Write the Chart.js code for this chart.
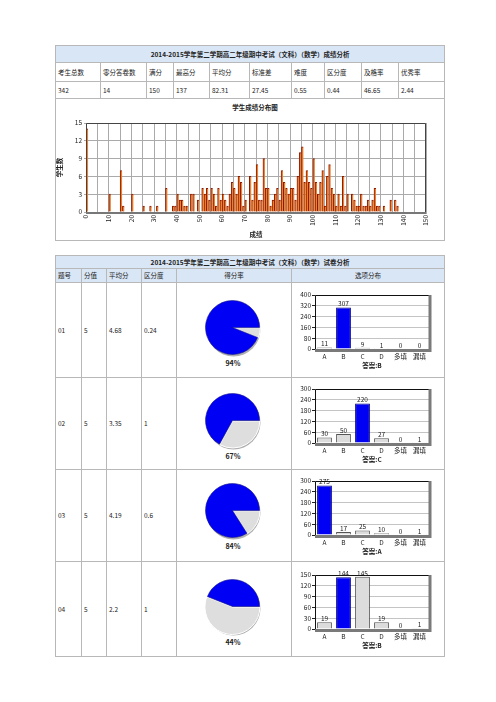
<!DOCTYPE html>
<html><head><meta charset="utf-8">
<script src="https://cdn.jsdelivr.net/npm/chart.js@4.4.1/dist/chart.umd.min.js"></script>
<style>
body{margin:0;background:#fff;width:496px;height:702px;position:relative;overflow:hidden;font-family:"Noto Sans CJK SC","Noto Sans",sans-serif;color:#222}
table{position:absolute;border-collapse:collapse;table-layout:fixed;font-size:6.5px;line-height:1}
td{border:1px solid #b8b8b8;padding:0 2px;overflow:hidden;white-space:nowrap;vertical-align:middle;color:#222}
.blue td{background:#d9e6f6}
.ttl{text-align:center;font-weight:bold}
.ctr{text-align:center}
canvas{position:absolute}
.lbl{position:absolute;font-size:6.5px;font-weight:bold;text-align:center;line-height:1}
</style></head>
<body>
<script>
// ---------- data ----------
const title1 = '2014-2015学年第二学期高二年级期中考试（文科）（数学）成绩分析';
const title2 = '2014-2015学年第二学期高二年级期中考试（文科）（数学）试卷分析';
const statHeaders = ['考生总数','零分答卷数','满分','最高分','平均分','标准差','难度','区分度','及格率','优秀率'];
const statValues = ['342','14','150','137','82.31','27.45','0.55','0.44','46.65','2.44'];
const histTitle = '学生成绩分布图';
const histScores = [0,10,15,16,20,25,28,31,35,38,39,40,41,42,43,44,46,47,49,
  51,52,53,54,55,56,57,58,59,60,61,62,63,64,65,66,67,68,69,70,72,73,74,75,76,77,78,79,
  80,81,82,83,84,85,86,87,88,89,90,91,92,93,94,95,96,97,98,99,
  100,101,102,103,104,105,106,107,108,109,110,111,112,113,114,115,117,118,119,
  120,121,122,123,124,125,126,127,128,129,131,134,136,137];
const histCounts = [14,3,7,1,3,1,1,1,4,1,1,3,2,2,1,1,3,3,2,
  4,3,4,2,4,3,1,4,2,3,2,1,3,5,4,3,6,5,1,2,6,2,5,8,2,2,9,4,
  4,1,2,3,4,2,7,5,4,3,4,4,2,6,10,11,5,7,5,4,
  9,5,3,5,7,1,6,8,4,3,1,3,1,6,1,3,3,2,1,
  1,3,1,1,2,1,2,4,1,1,1,2,2,1];
const histYTitle = '学生数';
const histXTitle = '成绩';

const qHeaders = ['题号','分值','平均分','区分度','得分率','选项分布'];
const qIds = ['01','02','03','04'];
const qPoints = ['5','5','5','5'];
const qAvg = ['4.68','3.35','4.19','2.2'];
const qDisc = ['0.24','1','0.6','1'];
const qRate = [94,67,84,44];
const optLabels = ['A','B','C','D','多填','漏填'];
const q1Counts = [11,307,9,1,0,0];
const q2Counts = [30,50,220,27,0,1];
const q3Counts = [275,17,25,10,0,1];
const q4Counts = [19,144,145,19,0,1];
const qAnswers = ['B','C','A','B'];
const qAxisMax = [400,300,300,150];

// ---------- layout ----------
const T1 = {left:55, top:45, widths:[45,46,27,36,40,42,33,37,37,46], rows:[17,19,17,142]};
const T2 = {left:55, top:255, widths:[26,25,35,35,115,153], rows:[13,14,95,92,92,95]};
const pieCY = [328,421,511,607];
const pieCX = 233;
const barPlotTop = [295,389,481,575];
const barPlotH = 54;

function mkTable(cfg){
  const t = document.createElement('table');
  t.style.left = cfg.left+'px'; t.style.top = cfg.top+'px';
  t.style.width = cfg.widths.reduce((a,b)=>a+b,0)+'px';
  const cg = document.createElement('colgroup');
  cfg.widths.forEach(w=>{const c=document.createElement('col');c.style.width=w+'px';cg.appendChild(c);});
  t.appendChild(cg);
  document.body.appendChild(t);
  return t;
}
function row(t,h,cls){const r=t.insertRow();r.style.height=h+'px';if(cls)r.className=cls;return r;}
function cell(r,txt,span,cls){const c=r.insertCell();c.textContent=txt;if(span)c.colSpan=span;if(cls)c.className=cls;return c;}

// table 1
const t1 = mkTable(T1);
cell(row(t1,T1.rows[0],'blue'), title1, 10, 'ttl');
let r = row(t1,T1.rows[1]); statHeaders.forEach(h=>cell(r,h));
r = row(t1,T1.rows[2]); statValues.forEach(v=>cell(r,v));
cell(row(t1,T1.rows[3]),'',10);

// table 2
const t2 = mkTable(T2);
cell(row(t2,T2.rows[0],'blue'), title2, 6, 'ttl');
r = row(t2,T2.rows[1],'blue');
qHeaders.forEach((h,i)=>cell(r,h,0,i>=4?'ctr':''));
qIds.forEach((id,i)=>{
  const rr = row(t2,T2.rows[2+i]);
  cell(rr,id); cell(rr,qPoints[i]); cell(rr,qAvg[i]); cell(rr,qDisc[i]); cell(rr,''); cell(rr,'');
});

Chart.defaults.font.family = '"Noto Sans CJK SC","Noto Sans",sans-serif';
Chart.defaults.color = '#222';

// histogram title
const ht = document.createElement('div');
ht.className='lbl'; ht.textContent = histTitle;
ht.style.left='205px'; ht.style.width='100px'; ht.style.top='104px';
document.body.appendChild(ht);

function addCanvas(l,t,w,h){
  const c=document.createElement('canvas');c.width=w;c.height=h;
  c.style.left=l+'px';c.style.top=t+'px';c.style.width=w+'px';c.style.height=h+'px';
  document.body.appendChild(c);return c;
}

const frameHist = {id:'frameHist', afterDraw(ch){
  const a=ch.chartArea, x=ch.ctx; x.save();
  x.strokeStyle='#444'; x.lineWidth=1;
  x.beginPath(); x.moveTo(a.left+0.5,a.bottom); x.lineTo(a.left+0.5,a.top+0.5); x.lineTo(a.right-0.5,a.top+0.5); x.lineTo(a.right-0.5,a.bottom); x.stroke();
  x.strokeStyle='#777'; x.lineWidth=2;
  x.beginPath(); x.moveTo(a.left,a.bottom+1); x.lineTo(a.right,a.bottom+1); x.stroke();
  x.restore();
}};

// histogram
new Chart(addCanvas(56,99,388,139),{
  type:'bar',
  data:{datasets:[{
    data: histScores.map((s,i)=>({x:s+0.5,y:histCounts[i]})),
    backgroundColor:'#ee7f2d', borderColor:'#8a1a00',
    borderWidth:{left:1,top:1,right:0,bottom:0}, borderSkipped:false,
    barThickness:2
  }]},
  options:{responsive:false,animation:false,
    layout:{padding:{top:24,right:18,left:0,bottom:0}},
    plugins:{legend:{display:false},tooltip:{enabled:false}},
    scales:{
      x:{type:'linear',min:0,max:150,offset:false,
        grid:{color:'#aaa',offset:false,drawTicks:true,tickLength:2},
        border:{display:false},
        ticks:{stepSize:5,autoSkip:false,minRotation:90,maxRotation:90,font:{size:6.5},padding:1,
          callback:v=>v%10===0?String(v):''},
        title:{display:true,text:histXTitle,font:{size:6.5,weight:'bold'},padding:0},
        afterFit(s){s.height=26;}},
      y:{min:0,max:15,
        grid:{color:'#aaa',tickLength:2},
        border:{display:false},
        ticks:{stepSize:3,font:{size:6.5},padding:2},
        title:{display:true,text:histYTitle,font:{size:6.5,weight:'bold'},padding:0},
        afterFit(s){s.width=30;}}
    }},
  plugins:[frameHist]
});

// pies
const pieShadow = {id:'pieShadow', beforeDatasetsDraw(ch){
  const el = ch.getDatasetMeta(0).data[0]; if(!el) return;
  const x=ch.ctx; x.save(); x.fillStyle='#b0b0b0';
  x.beginPath(); x.arc(el.x+1,el.y+2,el.outerRadius,0,Math.PI*2); x.fill(); x.restore();
}};
qRate.forEach((rate,i)=>{
  const sz=59;
  new Chart(addCanvas(pieCX-Math.round(sz/2),pieCY[i]-Math.round(sz/2),sz,sz),{
    type:'pie',
    data:{labels:['失分','得分'],datasets:[{data:[100-rate,rate],
      backgroundColor:['#dedede','#0000f5'],borderColor:['#fff','#1a1a8a'],borderWidth:[1,0.6],offset:[2,0]}]},
    options:{responsive:false,animation:false,rotation:90,
      layout:{padding:1},
      plugins:{legend:{display:false},tooltip:{enabled:false}}},
    plugins:[pieShadow]
  });
  const l=document.createElement('div'); l.className='lbl';
  l.textContent=rate+'%'; l.style.left=(pieCX-20)+'px'; l.style.width='40px';
  l.style.top=(pieCY[i]+32)+'px'; l.style.fontSize='7px';
  document.body.appendChild(l);
});

// option bar charts
const frameBar = {id:'frameBar', afterDatasetsDraw(ch){
  const a=ch.chartArea, x=ch.ctx; x.save();
  x.strokeStyle='#111'; x.lineWidth=1;
  x.beginPath(); x.moveTo(a.left+0.5,a.bottom); x.lineTo(a.left+0.5,a.top+0.5); x.lineTo(a.right,a.top+0.5); x.stroke();
  x.strokeStyle='#7a7a7a'; x.lineWidth=3;
  x.beginPath(); x.moveTo(a.right+1,a.top); x.lineTo(a.right+1,a.bottom+1.5); x.lineTo(a.left,a.bottom+1.5); x.stroke();
  // value labels
  x.fillStyle='#222'; x.font='6.5px "Noto Sans CJK SC",sans-serif'; x.textAlign='center'; x.textBaseline='bottom';
  const ds=ch.data.datasets[0];
  ch.getDatasetMeta(0).data.forEach((b,j)=>{x.fillText(String(ds.data[j]),b.x,b.y-0.5);});
  x.restore();
}};
const qCounts=[q1Counts,q2Counts,q3Counts,q4Counts];
qCounts.forEach((cnt,i)=>{
  const ans=qAnswers[i], mx=qAxisMax[i];
  new Chart(addCanvas(292,barPlotTop[i]-8,152,8+barPlotH+20),{
    type:'bar',
    data:{labels:optLabels,datasets:[{data:cnt,
      backgroundColor:optLabels.map(l=>l===ans?'#0000f5':'#dcdcdc'),
      borderColor:optLabels.map(l=>l===ans?'#00007a':'#555'),
      borderWidth:1,barPercentage:0.78,categoryPercentage:1}]},
    options:{responsive:false,animation:false,
      layout:{padding:{top:8,right:15,left:0,bottom:0}},
      plugins:{legend:{display:false},tooltip:{enabled:false}},
      scales:{
        x:{grid:{display:false,drawTicks:false},border:{display:false},
          ticks:{font:{size:6.5},padding:4},
          title:{display:true,text:'答案:'+ans,font:{size:6.5,weight:'bold'},padding:0},
          afterFit(s){s.height=20;}},
        y:{min:0,max:mx,border:{display:false},
          grid:{color:'#c4c4c4',tickColor:'#222',tickLength:3},
          ticks:{stepSize:mx/5,font:{size:6.5},padding:1},
          afterFit(s){s.width=23;}}
      }},
    plugins:[frameBar]
  });
});
</script>
</body></html>
